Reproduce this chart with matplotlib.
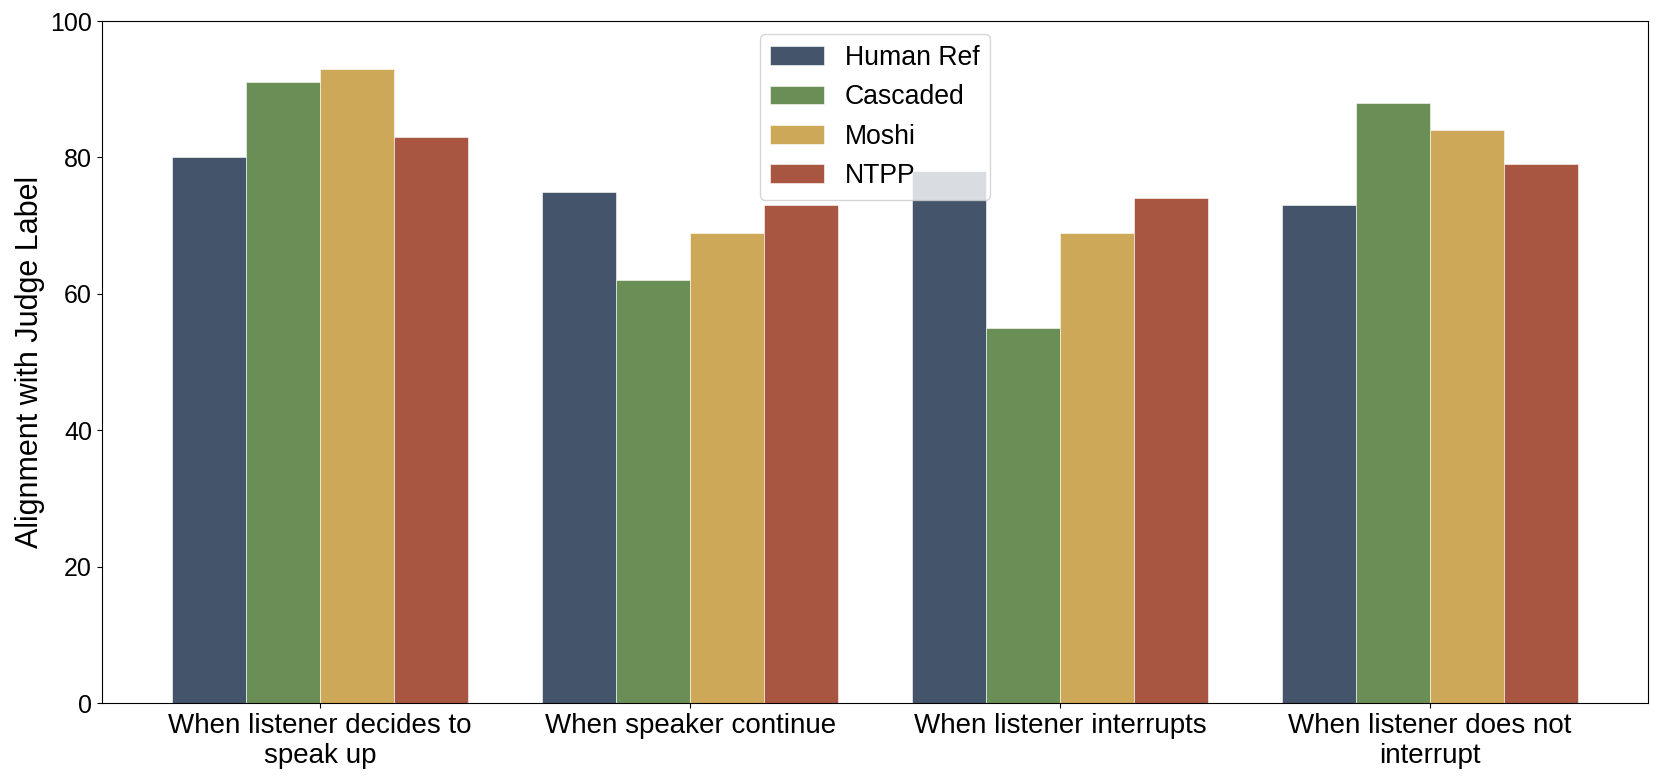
import matplotlib.pyplot as plt
import numpy as np

plt.rcParams['font.family'] = ['Liberation Sans', 'DejaVu Sans']

categories = ['When listener decides to\nspeak up', 'When speaker continue',
              'When listener interrupts', 'When listener does not\ninterrupt']
series = ['Human Ref', 'Cascaded', 'Moshi', 'NTPP']
human_ref = [80, 75, 78, 73]
cascaded = [91, 62, 55, 88]
moshi = [93, 69, 69, 84]
ntpp = [83, 73, 74, 79]
colors = ['#44546A', '#6A8F56', '#CDA859', '#A85641']

values = [human_ref, cascaded, moshi, ntpp]
x = np.arange(len(categories))
width = 0.2

fig, ax = plt.subplots(figsize=(16.6, 7.82), dpi=100)
for i, (name, vals) in enumerate(zip(series, values)):
    ax.bar(x + (i - 1.5) * width, vals, width, label=name, color=colors[i],
           edgecolor='white', linewidth=0.4)

ax.set_ylim(0, 100)
ax.set_xticks(x)
ax.set_xticklabels(categories, fontsize=20)
ax.tick_params(axis='y', labelsize=18)
ax.set_ylabel('Alignment with Judge Label', fontsize=22)
ax.legend(loc='upper center', fontsize=19.2, framealpha=0.8)

plt.subplots_adjust(left=0.0613, right=0.993, top=0.973, bottom=0.101)
plt.savefig('out.png')
